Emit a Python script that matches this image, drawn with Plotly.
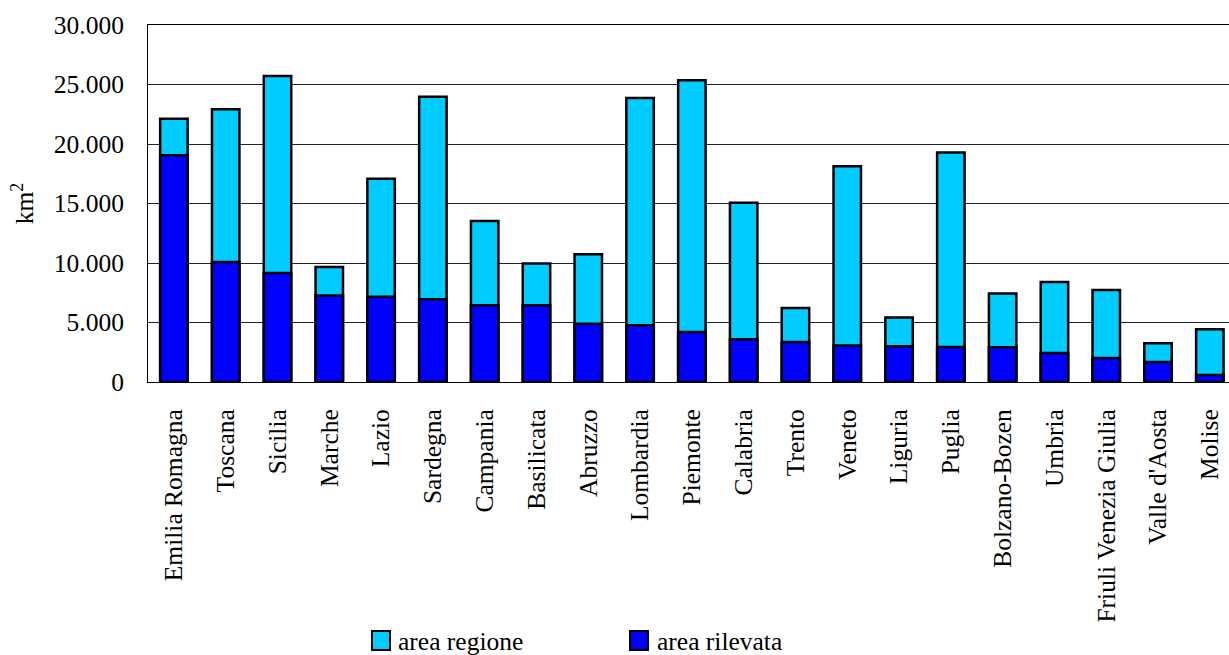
import plotly.graph_objects as go

# Regional surface vs. surveyed surface (km²)
regions = ["Emilia Romagna", "Toscana", "Sicilia", "Marche", "Lazio", "Sardegna",
           "Campania", "Basilicata", "Abruzzo", "Lombardia", "Piemonte", "Calabria",
           "Trento", "Veneto", "Liguria", "Puglia", "Bolzano-Bozen", "Umbria",
           "Friuli Venezia Giulia", "Valle d'Aosta", "Molise"]
area_regione = [22130, 22920, 25710, 9660, 17090, 23980, 13530, 9950, 10730, 23870,
                25350, 15070, 6220, 18130, 5410, 19280, 7430, 8400, 7730, 3250, 4430]
area_rilevata = [19050, 10080, 9160, 7260, 7170, 6950, 6450, 6450, 4900, 4760,
                 4200, 3590, 3360, 3060, 3000, 2940, 2920, 2440, 2020, 1680, 590]
y_tickvals = [0, 5000, 10000, 15000, 20000, 25000, 30000]
y_ticktext = ["0", "5.000", "10.000", "15.000", "20.000", "25.000", "30.000"]

names = ["area regione", "area rilevata"]
colors = ["#00CCFF", "#0000FF"]

W, H = 1229, 655
L, T, B, R = 148, 25, 273, 0
FONT = "Liberation Serif"
FS = 25.5

fig = go.Figure()
fig.add_trace(go.Bar(x=regions, y=area_regione, name=names[0], width=0.53,
                     marker=dict(color=colors[0], line=dict(color="black", width=2.5)),
                     showlegend=False))
fig.add_trace(go.Bar(x=regions, y=area_rilevata, name=names[1], width=0.53,
                     marker=dict(color=colors[1], line=dict(color="black", width=2.5)),
                     showlegend=False))

# hand-drawn legend below the plot (paper coordinates)
plot_w = W - L - R
plot_h = H - T - B
def px_x(px):
    return (px - L) / plot_w
def px_y(py):
    return (H - B - py) / plot_h

legend_items = [(372, 396), (630, 655)]
for (sx, tx), name, col in zip(legend_items, names, colors):
    fig.add_shape(type="rect", xref="paper", yref="paper",
                  x0=px_x(sx), x1=px_x(sx + 18), y0=px_y(650), y1=px_y(631),
                  fillcolor=col, line=dict(color="black", width=2))
    fig.add_annotation(xref="paper", yref="paper", x=px_x(tx), y=px_y(641),
                       text=name, showarrow=False, xanchor="left", yanchor="middle",
                       font=dict(family=FONT, size=FS, color="black"))

fig.update_layout(
    width=W, height=H,
    margin=dict(l=L, r=R, t=T, b=B, pad=0),
    barmode="overlay",
    plot_bgcolor="white", paper_bgcolor="white",
    font=dict(family=FONT, size=FS, color="black"),
    showlegend=False,
)
fig.update_xaxes(
    range=[-0.5, 20.37], tickangle=-90, showgrid=False,
    showline=True, linecolor="black", linewidth=1, mirror=True,
    ticks="", ticklabelstandoff=16,
    tickfont=dict(family=FONT, size=FS, color="black"),
)
fig.update_yaxes(
    range=[0, 30000], tickvals=y_tickvals, ticktext=y_ticktext,
    showgrid=True, gridcolor="#222222", gridwidth=1,
    showline=True, linecolor="black", linewidth=1,
    ticks="", ticklabelstandoff=18, zeroline=False,
    tickfont=dict(family=FONT, size=FS, color="black"),
    title=dict(text="km<sup>2</sup>", font=dict(family=FONT, size=FS, color="black"),
               standoff=12),
)

fig.write_html("out.html")
